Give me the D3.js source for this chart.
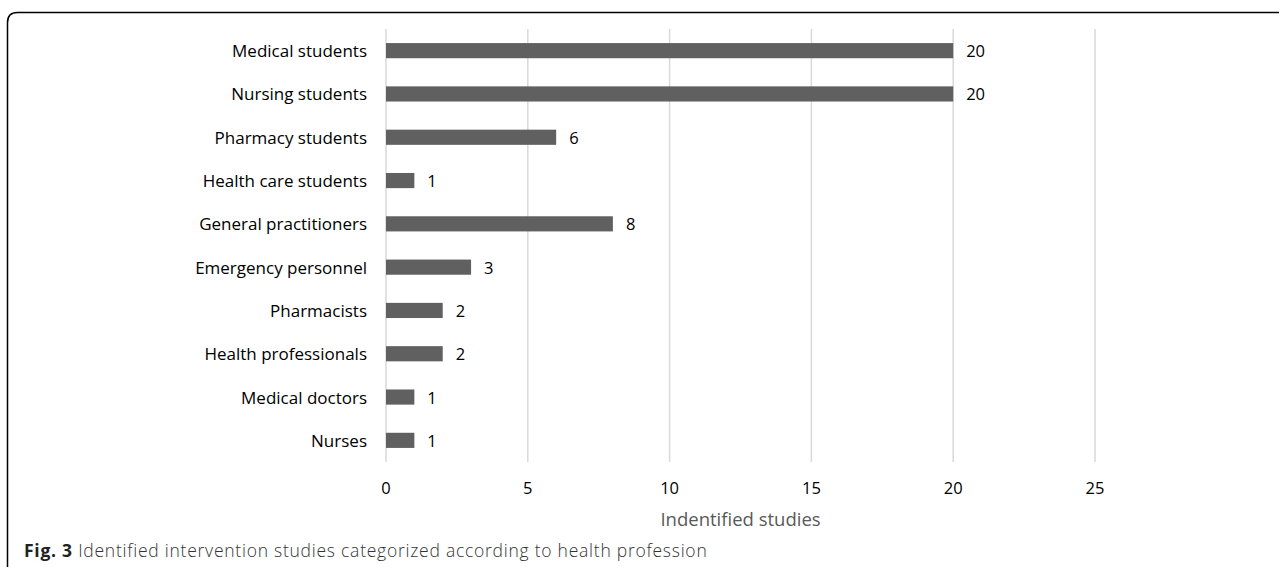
<!DOCTYPE html>
<html>
<head>
<meta charset="utf-8">
<script src="https://cdn.jsdelivr.net/npm/d3@7"></script>
<style>
  html, body { margin: 0; padding: 0; background: #fff; }
  svg { display: block; }
</style>
</head>
<body>
<svg id="chart" width="1279" height="567"></svg>
<script>
const categories = [
  "Medical students",
  "Nursing students",
  "Pharmacy students",
  "Health care students",
  "General practitioners",
  "Emergency personnel",
  "Pharmacists",
  "Health professionals",
  "Medical doctors",
  "Nurses"
];
const values = [20, 20, 6, 1, 8, 3, 2, 2, 1, 1];
const xTicks = [0, 5, 10, 15, 20, 25];
const axisTitle = "Indentified studies";
const captionBold = "Fig. 3";
const captionText = " Identified intervention studies categorized according to health profession";

const svg = d3.select("#chart");
const font = "'Open Sans', Lato, sans-serif";

// Frame with rounded top-left corner
const r = 10, fx = 7.5, fy = 12.5;
svg.append("path")
  .attr("d", `M${fx},${600} L${fx},${fy + r} Q${fx},${fy} ${fx + r},${fy} L1300,${fy}`)
  .attr("fill", "none")
  .attr("stroke", "#000")
  .attr("stroke-width", 1.5);

const x = d3.scaleLinear().domain([0, 25]).range([386, 1095]);
const y = d3.scaleBand().domain(categories).range([29, 462]).paddingInner(0.65).paddingOuter(0.325);

// Gridlines
svg.append("g").selectAll("line").data(xTicks).join("line")
  .attr("x1", d => x(d)).attr("x2", d => x(d))
  .attr("y1", 29).attr("y2", 462)
  .attr("stroke", "#d9d9d9").attr("stroke-width", 1.5);

// Bars
svg.append("g").selectAll("rect").data(values).join("rect")
  .attr("x", x(0))
  .attr("y", (d, i) => y(categories[i]))
  .attr("width", d => x(d) - x(0))
  .attr("height", y.bandwidth())
  .attr("fill", "#606060");

// Value labels
svg.append("g").selectAll("text").data(values).join("text")
  .attr("x", d => x(d) + 13)
  .attr("y", (d, i) => y(categories[i]) + y.bandwidth() / 2)
  .attr("dominant-baseline", "central")
  .attr("font-family", font).attr("font-size", 16.5).attr("fill", "#000")
  .text(d => d);

// Category labels
svg.append("g").selectAll("text").data(categories).join("text")
  .attr("x", 367)
  .attr("y", d => y(d) + y.bandwidth() / 2)
  .attr("text-anchor", "end")
  .attr("dominant-baseline", "central")
  .attr("font-family", font).attr("font-size", 17).attr("fill", "#000")
  .text(d => d);

// X tick labels
svg.append("g").selectAll("text").data(xTicks).join("text")
  .attr("x", d => x(d))
  .attr("y", 487)
  .attr("text-anchor", "middle")
  .attr("dominant-baseline", "central")
  .attr("font-family", font).attr("font-size", 16.5).attr("fill", "#000")
  .text(d => d);

// Axis title
svg.append("text")
  .attr("x", (x(0) + x(25)) / 2)
  .attr("y", 518)
  .attr("text-anchor", "middle")
  .attr("dominant-baseline", "central")
  .attr("font-family", font).attr("font-size", 18.5).attr("fill", "#595959")
  .text(axisTitle);

// Caption
const cap = svg.append("text")
  .attr("x", 24)
  .attr("y", 549.5)
  .attr("dominant-baseline", "central")
  .attr("font-family", font).attr("font-size", 17.5)
  .attr("letter-spacing", 0.75)
  .attr("fill", "#222");
cap.append("tspan").attr("font-weight", "bold").text(captionBold);
cap.append("tspan").attr("font-weight", 300).attr("fill", "#333").text(captionText);
</script>
</body>
</html>
